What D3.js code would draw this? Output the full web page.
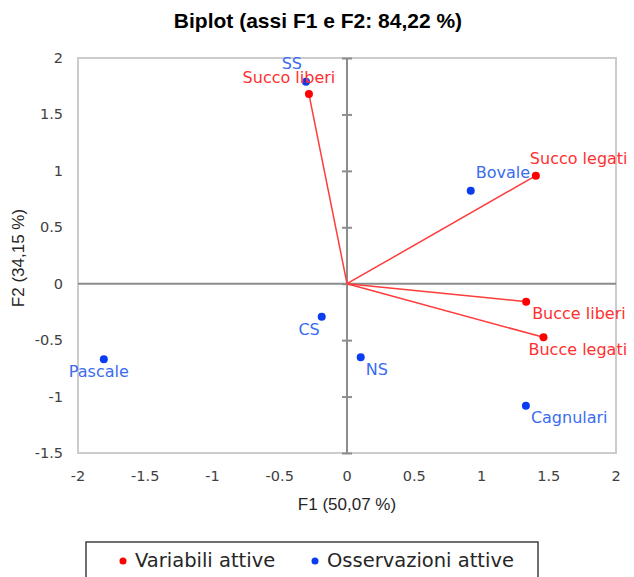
<!DOCTYPE html>
<html>
<head>
<meta charset="utf-8">
<script src="https://cdn.jsdelivr.net/npm/d3@7"></script>
<style>
  body { margin: 0; background: #fff; }
  text { font-family: "DejaVu Sans", sans-serif; }
</style>
</head>
<body>
<div id="chart"></div>
<script>
// active variables (red vectors)
const varNames = ['Succo liberi', 'Succo legati', 'Bucce liberi', 'Bucce legati'];
const varF1 = [-0.283, 1.404, 1.332, 1.461];
const varF2 = [1.680, 0.957, -0.159, -0.475];

// active observations (blue points)
const obsNames = ['SS', 'Bovale', 'Cagnulari', 'CS', 'NS', 'Pascale'];
const obsF1 = [-0.305, 0.920, 1.330, -0.188, 0.102, -1.808];
const obsF2 = [1.789, 0.824, -1.081, -0.292, -0.652, -0.670];

const xTicks = [-2, -1.5, -1, -0.5, 0, 0.5, 1, 1.5, 2];
const yTicks = [-1.5, -1, -0.5, 0, 0.5, 1, 1.5, 2];

// label placement (px offset from the point, text-anchor)
const labelPos = {
  'Succo liberi': [-20, -11, 'middle'],
  'Succo legati': [-6, -12, 'start'],
  'Bucce liberi': [6, 17, 'start'],
  'Bucce legati': [-15, 18, 'start'],
  'SS': [-4, -13, 'end'],
  'Bovale': [5, -13, 'start'],
  'Cagnulari': [5, 17, 'start'],
  'CS': [-2, 18, 'end'],
  'NS': [5, 18, 'start'],
  'Pascale': [-5, 18, 'middle']
};

const width = 634, height = 577;
const margin = {left: 78, right: 18, top: 58, bottom: 124};

const svg = d3.select('#chart').append('svg')
  .attr('width', width)
  .attr('height', height);

const x = d3.scaleLinear().domain([-2, 2]).range([margin.left, width - margin.right]);
const y = d3.scaleLinear().domain([-1.5, 2]).range([height - margin.bottom, margin.top]);

// title
svg.append('text')
  .attr('x', 318).attr('y', 28)
  .attr('text-anchor', 'middle')
  .style('font-family', '"Liberation Sans Narrow", "Liberation Sans", sans-serif')
  .style('font-weight', 'bold')
  .style('font-size', '21px')
  .attr('fill', '#000')
  .text('Biplot (assi F1 e F2: 84,22 %)');

// frame
svg.append('rect')
  .attr('x', x(-2)).attr('y', y(2))
  .attr('width', x(2) - x(-2)).attr('height', y(-1.5) - y(2))
  .attr('fill', 'none')
  .attr('stroke', '#cccccc')
  .attr('stroke-width', 2);

// zero axes
svg.append('line')
  .attr('x1', x(-2)).attr('x2', x(2))
  .attr('y1', y(0)).attr('y2', y(0))
  .attr('stroke', '#8c8c8c').attr('stroke-width', 2);

const yAxis = d3.axisLeft(y)
  .tickValues(yTicks)
  .tickSize(10)
  .tickSizeOuter(0)
  .tickFormat('');
const ya = svg.append('g')
  .attr('transform', 'translate(' + (x(0) + 5) + ',0)')
  .call(yAxis);
ya.select('.domain').remove();
ya.selectAll('.tick line').attr('stroke', '#8c8c8c').attr('stroke-width', 2);
svg.append('line')
  .attr('x1', x(0)).attr('x2', x(0))
  .attr('y1', y(2)).attr('y2', y(-1.5))
  .attr('stroke', '#8c8c8c').attr('stroke-width', 2);

// tick labels
svg.append('g').selectAll('text')
  .data(yTicks)
  .enter().append('text')
  .attr('x', 63)
  .attr('y', d => y(d) + 5)
  .attr('text-anchor', 'end')
  .style('font-size', '14.5px')
  .attr('fill', '#404040')
  .text(d => d);

svg.append('g').selectAll('text')
  .data(xTicks)
  .enter().append('text')
  .attr('x', d => x(d))
  .attr('y', 481)
  .attr('text-anchor', 'middle')
  .style('font-size', '14.5px')
  .attr('fill', '#404040')
  .text(d => d);

// axis titles
svg.append('text')
  .attr('x', x(0)).attr('y', 510)
  .attr('text-anchor', 'middle')
  .style('font-family', '"Liberation Sans", sans-serif')
  .style('font-size', '17px')
  .attr('fill', '#262626')
  .text('F1 (50,07 %)');

svg.append('text')
  .attr('transform', 'translate(24,' + 258 + ') rotate(-90)')
  .attr('text-anchor', 'middle')
  .style('font-family', '"Liberation Sans", sans-serif')
  .style('font-size', '17px')
  .attr('fill', '#262626')
  .text('F2 (34,15 %)');

const vars = varNames.map((n, i) => ({name: n, f1: varF1[i], f2: varF2[i]}));
const obs = obsNames.map((n, i) => ({name: n, f1: obsF1[i], f2: obsF2[i]}));

// vectors
svg.append('g').selectAll('line')
  .data(vars)
  .enter().append('line')
  .attr('x1', x(0)).attr('y1', y(0))
  .attr('x2', d => x(d.f1)).attr('y2', d => y(d.f2))
  .attr('stroke', '#ff3b3b')
  .attr('stroke-width', 1.5);

// observations
svg.append('g').selectAll('circle')
  .data(obs)
  .enter().append('circle')
  .attr('cx', d => x(d.f1)).attr('cy', d => y(d.f2))
  .attr('r', 4)
  .attr('fill', '#0a3cf0');

svg.append('g').selectAll('text')
  .data(obs)
  .enter().append('text')
  .attr('x', d => x(d.f1) + labelPos[d.name][0])
  .attr('y', d => y(d.f2) + labelPos[d.name][1])
  .attr('text-anchor', d => labelPos[d.name][2])
  .style('font-size', '16px')
  .attr('fill', '#3a6cf0')
  .text(d => d.name);

// variables
svg.append('g').selectAll('circle')
  .data(vars)
  .enter().append('circle')
  .attr('cx', d => x(d.f1)).attr('cy', d => y(d.f2))
  .attr('r', 4)
  .attr('fill', '#ff0000');

svg.append('g').selectAll('text')
  .data(vars)
  .enter().append('text')
  .attr('x', d => x(d.f1) + labelPos[d.name][0])
  .attr('y', d => y(d.f2) + labelPos[d.name][1])
  .attr('text-anchor', d => labelPos[d.name][2])
  .style('font-size', '16px')
  .attr('fill', '#ff3030')
  .text(d => d.name);

// legend
const legendItems = [
  {label: 'Variabili attive', color: '#ff0000', x: 123},
  {label: 'Osservazioni attive', color: '#0a3cf0', x: 315}
];
svg.append('rect')
  .attr('x', 86).attr('y', 542)
  .attr('width', 452).attr('height', 40)
  .attr('fill', 'none')
  .attr('stroke', '#404040')
  .attr('stroke-width', 1.5);
const lg = svg.append('g').selectAll('g')
  .data(legendItems)
  .enter().append('g');
lg.append('circle')
  .attr('cx', d => d.x).attr('cy', 561)
  .attr('r', 3.5)
  .attr('fill', d => d.color);
lg.append('text')
  .attr('x', d => d.x + 12).attr('y', 567)
  .style('font-size', '19.5px')
  .attr('fill', '#262626')
  .text(d => d.label);
</script>
</body>
</html>
